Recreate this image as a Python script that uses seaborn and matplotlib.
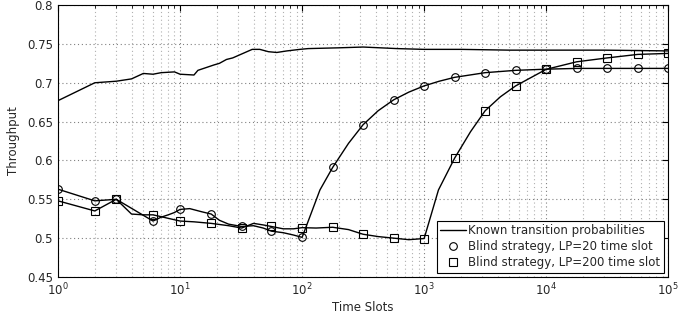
import matplotlib
matplotlib.use("Agg")
import matplotlib.pyplot as plt
import matplotlib.ticker as mticker
from matplotlib.lines import Line2D
import pandas as pd
import seaborn as sns

# Data
known_x = [1, 2, 3, 4, 5, 6, 7, 9, 10, 13, 14, 19, 21, 24, 27, 33, 39, 45, 53, 62,
           75, 96, 112, 200, 316, 600, 1000, 2000, 5000, 10000, 30000, 100000]
known_y = [0.677, 0.700, 0.702, 0.705, 0.712, 0.711, 0.713, 0.714, 0.711, 0.710,
           0.716, 0.723, 0.725, 0.730, 0.732, 0.738, 0.743, 0.743, 0.740, 0.739,
           0.741, 0.743, 0.744, 0.745, 0.746, 0.744, 0.743, 0.743, 0.742, 0.742,
           0.742, 0.741]

lp20_x = [1, 2, 3, 6, 7, 8, 9, 10, 12, 15, 18, 21, 25, 32, 40, 48, 56, 70, 85, 100,
          140, 178, 240, 316, 420, 562, 750, 1000, 1330, 1778, 3162, 5623, 10000,
          17783, 31623, 56234, 100000]
lp20_y = [0.563, 0.548, 0.550, 0.522, 0.527, 0.530, 0.533, 0.537, 0.538, 0.534,
          0.531, 0.523, 0.518, 0.515, 0.516, 0.513, 0.509, 0.507, 0.504, 0.501,
          0.562, 0.591, 0.622, 0.646, 0.664, 0.678, 0.688, 0.696, 0.702, 0.707,
          0.713, 0.716, 0.7175, 0.7185, 0.7185, 0.7185, 0.7185]

lp200_x = [1, 2, 3, 4, 5, 6, 10, 13, 18, 25, 32, 40, 48, 56, 70, 85, 100, 130, 178,
           240, 316, 420, 562, 750, 1000, 1310, 1778, 2400, 3162, 4220, 5623, 10000,
           17783, 31623, 56234, 100000]
lp200_y = [0.548, 0.535, 0.550, 0.531, 0.530, 0.530, 0.522, 0.521, 0.519, 0.516,
           0.513, 0.519, 0.517, 0.515, 0.512, 0.512, 0.5135, 0.513, 0.514, 0.511,
           0.505, 0.502, 0.500, 0.498, 0.4995, 0.562, 0.603, 0.637, 0.664, 0.682,
           0.696, 0.7173, 0.727, 0.732, 0.7365, 0.7378]

# time slots where the markers sit
marker_x = [1, 2, 3, 6, 10, 18, 32, 56, 100, 178, 316, 562, 1000, 1778, 3162,
            5623, 10000, 17783, 31623, 56234, 100000]

labels = ["Known transition probabilities",
          "Blind strategy, LP=20 time slot",
          "Blind strategy, LP=200 time slot"]

sns.set_style("white")
plt.rcParams['font.family'] = ['DejaVu Sans']
plt.rcParams['font.size'] = 8.5

fig, ax = plt.subplots(figsize=(6.91, 3.18), dpi=100)
fig.subplots_adjust(left=0.084, right=0.967, top=0.984, bottom=0.129)

df_known = pd.DataFrame({'x': known_x, 'y': known_y})
df_lp20 = pd.DataFrame({'x': lp20_x, 'y': lp20_y})
df_lp200 = pd.DataFrame({'x': lp200_x, 'y': lp200_y})

sns.lineplot(data=df_known, x='x', y='y', ax=ax, color='black', lw=1.0,
             estimator=None, sort=False)
sns.lineplot(data=df_lp20, x='x', y='y', ax=ax, color='black', lw=1.0,
             estimator=None, sort=False, marker='o', markersize=5.5,
             mfc='none', mec='black', mew=0.8,
             markevery=[lp20_x.index(m) for m in marker_x])
sns.lineplot(data=df_lp200, x='x', y='y', ax=ax, color='black', lw=1.0,
             estimator=None, sort=False, marker='s', markersize=5.5,
             mfc='none', mec='black', mew=0.8,
             markevery=[lp200_x.index(m) for m in marker_x])

ax.set_xscale('log')
ax.set_xlim(1, 1e5)
ax.set_ylim(0.45, 0.8)
ax.yaxis.set_major_locator(mticker.MultipleLocator(0.05))
ax.yaxis.set_major_formatter(mticker.FuncFormatter(lambda v, p: '%g' % round(v, 2)))
ax.xaxis.set_minor_locator(mticker.LogLocator(base=10, subs=range(2, 10)))
ax.xaxis.set_minor_formatter(mticker.NullFormatter())

ax.grid(which='major', linestyle=(0, (1, 2.5)), color='#808080', lw=0.8)
ax.grid(which='minor', axis='x', linestyle=(0, (1, 2.5)), color='#b0b0b0', lw=0.8)
ax.tick_params(which='both', direction='in', top=True, right=True,
               labelsize=8.5, color='black')
ax.tick_params(which='major', length=4)
ax.tick_params(which='minor', length=2)
for s in ax.spines.values():
    s.set_color('black')
    s.set_linewidth(0.8)

ax.set_xlabel('Time Slots', fontsize=8.5, labelpad=2)
ax.set_ylabel('Throughput', fontsize=8.5, labelpad=5)

handles = [Line2D([], [], color='black', lw=1.0),
           Line2D([], [], color='black', ls='none', marker='o', markersize=5.5,
                  mfc='none', mew=0.8),
           Line2D([], [], color='black', ls='none', marker='s', markersize=5.5,
                  mfc='none', mew=0.8)]
leg = ax.legend(handles, labels, loc='lower right', fontsize=8.5, fancybox=False,
                edgecolor='black', framealpha=1, borderaxespad=0.35,
                handlelength=2.2, handletextpad=0.2, borderpad=0.3,
                labelspacing=0.25)
leg.get_frame().set_linewidth(0.8)

fig.savefig('out.png', dpi=100)
